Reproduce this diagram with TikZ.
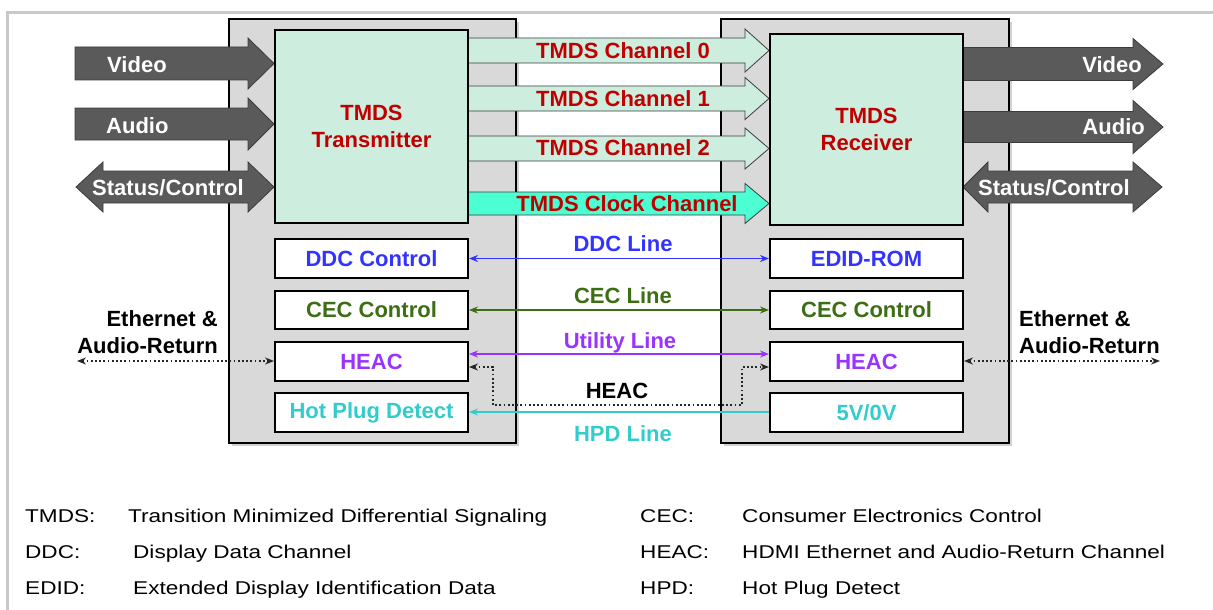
\documentclass[tikz,border=0pt]{standalone}
\usepackage{fontspec}
\setmainfont{Liberation Sans}
\newfontfamily\legendfont[FakeStretch=1.22]{Liberation Sans}
\usetikzlibrary{arrows.meta}
\definecolor{panelgrey}{HTML}{D9D9D9}
\definecolor{mint}{HTML}{CDEEDF}
\definecolor{aqua}{HTML}{4CFFD2}
\definecolor{darkred}{HTML}{C00000}
\definecolor{ddcblue}{HTML}{3333FF}
\definecolor{cecgreen}{HTML}{3D6E14}
\definecolor{utilpurple}{HTML}{9933FF}
\definecolor{hpdcyan}{HTML}{33CCCC}
\definecolor{arrowgrey}{HTML}{5A5A5A}
\definecolor{arrowedge}{HTML}{3C3C3C}
\definecolor{framegrey}{HTML}{C8C8C8}
\newcommand\fatarrowR[6]{% x0, xh, x1, yc, b, h
  (#1,{#4-#5}) -- (#2,{#4-#5}) -- (#2,{#4-#6}) -- (#3,#4) -- (#2,{#4+#6}) -- (#2,{#4+#5}) -- (#1,{#4+#5}) -- cycle}
\newcommand\fatarrowD[7]{% tipL, backL, startR, tipR, yc, b, h
  (#1,#5) -- (#2,{#5-#7}) -- (#2,{#5-#6}) -- (#3,{#5-#6}) -- (#3,{#5-#7}) -- (#4,#5) -- (#3,{#5+#7}) -- (#3,{#5+#6}) -- (#2,{#5+#6}) -- (#2,{#5+#7}) -- cycle}
\tikzset{
  lbl/.style={font=\fontsize{22}{27}\selectfont\bfseries},
  panel/.style={draw=black, line width=2pt, fill=panelgrey},
  bigbox/.style={draw=black, line width=2pt, fill=mint, anchor=north west, inner sep=0pt,
     minimum width=193pt, lbl, text=darkred, align=center},
  smallbox/.style={draw=black, line width=2pt, fill=white, anchor=north west, inner sep=0pt,
     minimum width=193pt, lbl},
  greyarrow/.style={fill=arrowgrey, draw=arrowedge, line width=0.8pt},
  chanarrow/.style={fill=mint, draw=arrowedge, line width=0.8pt},
  clockarrow/.style={fill=aqua, draw=arrowedge, line width=0.8pt},
  whitetext/.style={lbl, text=white, inner sep=0pt},
  chantext/.style={lbl, text=darkred, inner sep=0pt},
  bitip/.style={{Stealth[length=9pt,width=7pt]}-{Stealth[length=9pt,width=7pt]}},
  ddcline/.style={bitip, draw=ddcblue, line width=1.6pt},
  cecline/.style={bitip, draw=cecgreen, line width=1.6pt},
  utilline/.style={bitip, draw=utilpurple, line width=2.6pt},
  hpdline/.style={{Stealth[length=9pt,width=7pt]}-, draw=hpdcyan, line width=1.6pt},
  dotline/.style={{Stealth[length=9pt,width=7pt]}-{Stealth[length=9pt,width=7pt]}, draw=black!85, line width=1.8pt, dash pattern=on 1.8pt off 2.4pt},
  legend/.style={font=\legendfont\fontsize{18.5}{22}\selectfont, anchor=base west, inner sep=0pt}
}
\begin{document}
\begin{tikzpicture}[x=1pt,y=-1pt]
\useasboundingbox (0,0) rectangle (1213,610);
% frame
\draw[framegrey, line width=3pt] (7,610) -- (7,13) -- (1213,13);
% panels with soft shadow
\fill[black!18] (232,22) rectangle (519,446);
\fill[black!18] (724,22) rectangle (1012,446);
\draw[panel] (229,19) rectangle (516,443);
\draw[panel] (721,19) rectangle (1009,443);
% TMDS channel arrows
\draw[chanarrow] \fatarrowR{467}{745}{769}{50.5}{12.5}{21.5};
\draw[chanarrow] \fatarrowR{467}{745}{769}{98.5}{12.5}{21};
\draw[chanarrow] \fatarrowR{467}{745}{769}{148.5}{12.5}{20.5};
\draw[clockarrow] \fatarrowR{467}{745}{769}{203.5}{11.5}{20};
\node[chantext] (ch0) at (623,51) {TMDS Channel 0};
\node[chantext] (ch1) at (623,99) {TMDS Channel 1};
\node[chantext] (ch2) at (623,148) {TMDS Channel 2};
\node[chantext] (clk) at (627,204) {TMDS Clock Channel};
% grey input/output arrows
\draw[greyarrow] \fatarrowR{75}{248}{274}{63.5}{16.5}{25.5};
\draw[greyarrow] \fatarrowR{75}{248}{274}{124}{16}{26};
\draw[greyarrow] \fatarrowD{76}{103}{248}{274}{187}{16}{25};
\draw[greyarrow] \fatarrowR{962}{1133}{1163}{64}{16.5}{25.5};
\draw[greyarrow] \fatarrowR{962}{1133}{1163}{127}{15.5}{26.5};
\draw[greyarrow] \fatarrowD{963}{988}{1133}{1162}{187}{16}{25};
\node[whitetext, anchor=base west] (vinL) at (107,73) {Video};
\node[whitetext, anchor=base west] (ainL) at (106,133) {Audio};
\node[whitetext, anchor=base west] (scL) at (92,195) {Status/Control};
\node[whitetext, anchor=base east] (voutR) at (1142,73) {Video};
\node[whitetext, anchor=base east] (aoutR) at (1145,134) {Audio};
\node[whitetext, anchor=base west] (scR) at (978,195) {Status/Control};
% main boxes
\node[bigbox, minimum height=193pt] (tx) at (274,29) {TMDS\\Transmitter};
\node[bigbox, minimum height=191pt] (rx) at (769,33) {TMDS\\Receiver};
% small boxes left
\node[smallbox, minimum height=39pt, text=ddcblue] (ddcL) at (274,238) {DDC Control};
\node[smallbox, minimum height=38pt, text=cecgreen] (cecL) at (274,290) {CEC Control};
\node[smallbox, minimum height=39pt, text=utilpurple] (heacL) at (274,341) {HEAC};
\node[smallbox, minimum height=39pt, text=hpdcyan] (hpdL) at (274,392) {Hot Plug Detect};
% small boxes right
\node[smallbox, minimum height=39pt, text=ddcblue] (edid) at (769,238) {EDID-ROM};
\node[smallbox, minimum height=38pt, text=cecgreen] (cecR) at (769,290) {CEC Control};
\node[smallbox, minimum height=39pt, text=utilpurple] (heacR) at (769,341) {HEAC};
\node[smallbox, minimum height=39pt, text=hpdcyan] (fiveV) at (769,392) {5V/0V};
% lines
\draw[ddcline] (ddcL.east) -- (edid.west);
\draw[cecline] (cecL.east) -- (cecR.west);
\draw[utilline] (heacL.east |- 0,354) -- (heacR.west |- 0,354);
\draw[dotline] (heacL.east |- 0,367) -| (493,405) -| (742,367) -- (heacR.west |- 0,367);
\draw[hpdline] (hpdL.east |- 0,412) -- (fiveV.west |- 0,412);
% line labels
\node[lbl, text=ddcblue, anchor=base, inner sep=0pt] (ddclbl) at (623,251) {DDC Line};
\node[lbl, text=cecgreen, anchor=base, inner sep=0pt] (ceclbl) at (623,303) {CEC Line};
\node[lbl, text=utilpurple, anchor=base, inner sep=0pt] (utillbl) at (620,348) {Utility Line};
\node[lbl, text=black, anchor=base, inner sep=0pt] (heaclbl) at (617,398) {HEAC};
\node[lbl, text=hpdcyan, anchor=base, inner sep=0pt] (hpdlbl) at (623,441) {HPD Line};
% ethernet & audio return
\coordinate (ethL) at (77,361);
\coordinate (ethR) at (1160,361);
\draw[dotline] (ethL) -- (heacL.west |- 0,361);
\draw[dotline] (heacR.east |- 0,361) -- (ethR);
\node[lbl, align=right, anchor=east, inner sep=0pt] (ethtxtL) at (218,332) {Ethernet \&\\Audio-Return};
\node[lbl, align=left, anchor=west, inner sep=0pt] (ethtxtR) at (1019,332) {Ethernet \&\\Audio-Return};
% legend
\node[legend] (l1a) at (25,522) {TMDS:};
\node[legend] (l1b) at (128,522) {Transition Minimized Differential Signaling};
\node[legend] (l2a) at (25,558) {DDC:};
\node[legend] (l2b) at (133,558) {Display Data Channel};
\node[legend] (l3a) at (25,594) {EDID:};
\node[legend] (l3b) at (133,594) {Extended Display Identification Data};
\node[legend] (r1a) at (640,522) {CEC:};
\node[legend] (r1b) at (742,522) {Consumer Electronics Control};
\node[legend] (r2a) at (640,558) {HEAC:};
\node[legend] (r2b) at (742,558) {HDMI Ethernet and Audio-Return Channel};
\node[legend] (r3a) at (640,594) {HPD:};
\node[legend] (r3b) at (742,594) {Hot Plug Detect};
\end{tikzpicture}
\end{document}
